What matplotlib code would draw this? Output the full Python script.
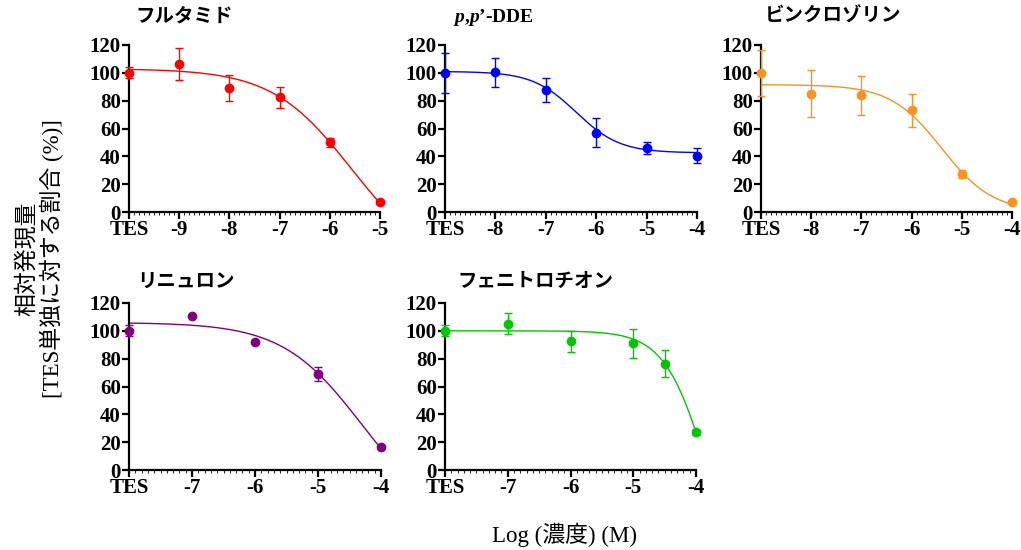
import numpy as np
import matplotlib
matplotlib.use("Agg")
import matplotlib.pyplot as plt
from matplotlib.ticker import MultipleLocator

plt.rcParams["font.family"] = ["Liberation Serif", "Noto Sans CJK JP"]
plt.rcParams["mathtext.fontset"] = "custom"
plt.rcParams["mathtext.bfit"] = "Liberation Serif:bold:italic"
plt.rcParams["mathtext.rm"] = "Liberation Serif:bold"

# --- data ---
titles = ["フルタミド", r"$\mathbfit{p}$,$\mathbfit{p}$’-DDE", "ビンクロゾリン", "リニュロン", "フェニトロチオン"]
colors = ["#ff0000", "#0000ff", "#f7931e", "#800080", "#00c800"]

x_flut = [-10, -9, -8, -7, -6, -5]
y_flut = [100, 106.5, 89, 82.5, 50, 7.5]
e_flut = [4, 11.5, 9.5, 7.5, 3, 1]

x_dde = [-9, -8, -7, -6, -5, -4]
y_dde = [100, 100.5, 87.5, 57, 46, 40.5]
e_dde = [14.5, 10.5, 8.5, 10.5, 4.5, 5.5]

x_vin = [-9, -8, -7, -6, -5, -4]
y_vin = [100, 85, 84, 73, 27.5, 7]
e_vin = [16.5, 17, 14, 12, 3, 1]

x_lin = [-8, -7, -6, -5, -4]
y_lin = [100, 111, 92, 69, 16.5]
e_lin = [4, 0, 0, 5, 0]

x_fen = [-8, -7, -6, -5, -4.5, -4]
y_fen = [100, 105, 92.5, 91, 76.5, 27]
e_fen = [4, 7.5, 7.5, 10.5, 10, 2]

# fitted curve parameters (top, bottom, logEC50, hill slope)
fit_flut = [103, -40, -5.58, 0.55]
fit_dde = [101, 42.5, -6.4, 1.0]
fit_vin = [91.5, 0, -5.4, 0.85]
fit_lin = [106, -40, -4.31, 0.69]
fit_fen = [100, -100, -3.81, 1.27]

xticks_flut = [-10, -9, -8, -7, -6, -5]
xticks_dde = [-9, -8, -7, -6, -5, -4]
xticks_lin = [-8, -7, -6, -5, -4]

panels = [
    (x_flut, y_flut, e_flut, fit_flut, xticks_flut),
    (x_dde, y_dde, e_dde, fit_dde, xticks_dde),
    (x_vin, y_vin, e_vin, fit_vin, xticks_dde),
    (x_lin, y_lin, e_lin, fit_lin, xticks_lin),
    (x_fen, y_fen, e_fen, fit_fen, xticks_lin),
]

# axes boxes in pixels: left, top, right, bottom
boxes = [(129, 45, 380, 212), (445, 45, 697, 212), (761, 45, 1012, 212),
         (129, 303, 381, 470), (445, 303, 696, 470)]
title_pos = [(135, 17), (453, 17), (765, 17), (137, 282), (457, 282)]

W, H = 1021, 550
fig = plt.figure(figsize=(W / 100, H / 100), dpi=100)


def fourpl(x, p):
    top, bot, c, h = p
    return bot + (top - bot) / (1 + 10 ** (h * (x - c)))


for i, (xs, ys, es, fit, ticks) in enumerate(panels):
    l, t, r, b = boxes[i]
    ax = fig.add_axes([l / W, 1 - b / H, (r - l) / W, (b - t) / H])
    col = colors[i]
    xx = np.linspace(ticks[0], ticks[-1], 300)
    ax.plot(xx, fourpl(xx, fit), color=col, lw=1.0, clip_on=False)
    ax.errorbar(xs, ys, yerr=es, fmt="o", color=col, ms=6, ecolor=col,
                elinewidth=1.0, capsize=3, capthick=1.0, clip_on=False, zorder=3)
    ax.set_xlim(ticks[0], ticks[-1])
    ax.set_ylim(0, 120)
    ax.set_xticks(ticks)
    ax.set_xticklabels(["TES"] + [str(v) for v in ticks[1:]])
    ax.set_yticks(range(0, 121, 20))
    ax.xaxis.set_minor_locator(MultipleLocator(0.1))
    for s in ["top", "right"]:
        ax.spines[s].set_visible(False)
    for s in ["left", "bottom"]:
        ax.spines[s].set_linewidth(1.6)
    ax.tick_params(which="major", length=5, width=1.6, pad=1, labelsize=15)
    ax.tick_params(which="minor", axis="x", length=2, width=0.6)
    for lab in ax.get_xticklabels() + ax.get_yticklabels():
        lab.set_fontweight("bold")
    tx, ty = title_pos[i]
    fig.text(tx / W, 1 - ty / H, titles[i], ha="left", va="center",
             fontsize=14, fontweight="bold")

fig.text(40 / W, 1 - 259 / H, "相対発現量\n[TES単独に対する割合 (%)]",
         rotation=90, ha="center", va="center", multialignment="center",
         fontsize=16.5, linespacing=1.1)
fig.text(564 / W, 1 - 535 / H, "Log (濃度) (M)", ha="center", va="center",
         fontsize=16.5)

fig.savefig("out.png", dpi=100)
